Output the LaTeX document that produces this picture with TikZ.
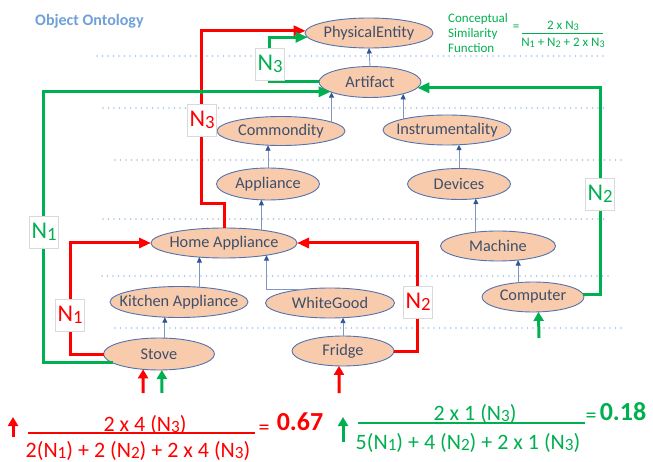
\documentclass[tikz,border=0pt]{standalone}
\usepackage{fontspec}
\setmainfont{Carlito}
\usetikzlibrary{arrows.meta,shapes.geometric}

\definecolor{ellfill}{HTML}{F8CBAD}
\definecolor{ellborder}{HTML}{5372AE}
\definecolor{elltext}{HTML}{3F4F69}
\definecolor{treeline}{HTML}{7F96C2}
\definecolor{treetip}{HTML}{2F5597}
\definecolor{dotblue}{HTML}{9DC3E6}
\definecolor{titleblue}{HTML}{6FA0D8}
\definecolor{pathred}{HTML}{FF0000}
\definecolor{pathgreen}{HTML}{00B050}
\definecolor{labborder}{HTML}{D9D9D9}

% small index digit, as in N1, N2, N3
\newcommand{\subd}[1]{\raisebox{-0.06em}{\scalebox{0.78}{#1}}}
% zero-width text so the ellipse keeps its given size
\newcommand{\zw}[1]{\makebox[0pt]{#1}}

\tikzset{
  onto/.style={ellipse, draw=ellborder, line width=0.9pt, fill=ellfill,
    text=elltext, font=\fontsize{16.3pt}{19pt}\selectfont,
    inner sep=0pt, outer sep=0pt},
  tree/.style={draw=treeline, line width=0.9pt,
    -{Triangle[length=5.5pt,width=5pt,color=treetip]}},
  dotline/.style={draw=dotblue, line width=1.7pt, line cap=round,
    dash pattern=on 0pt off 5.5pt},
  redpath/.style={draw=pathred, line width=3pt,
    -{Triangle[length=12pt,width=10pt]}},
  greenpath/.style={draw=pathgreen, line width=3pt,
    -{Triangle[length=12pt,width=10pt]}},
  uparr/.style={line width=3pt, -{Triangle[length=9pt,width=10pt]}},
  lab/.style={draw=labborder, fill=white, line width=0.6pt, inner sep=0pt,
    minimum width=29pt, minimum height=32pt,
    font=\fontsize{24pt}{24pt}\selectfont},
  ftxt/.style={font=\fontsize{22pt}{24pt}\selectfont, inner sep=0pt},
  fval/.style={font=\fontsize{26pt}{28pt}\selectfont\bfseries, inner sep=0pt},
  csf/.style={text=pathgreen, font=\fontsize{13pt}{15pt}\selectfont, inner sep=0pt},
}

\begin{document}
\begin{tikzpicture}[x=1pt,y=-1pt]
\useasboundingbox (0,0) rectangle (653,462);

% level separators
\draw[dotline] (97,56) -- (605,56);
\draw[dotline] (103,108) -- (608,108);
\draw[dotline] (115,160) -- (622,160);
\draw[dotline] (103,219) -- (608,219);
\draw[dotline] (102,276) -- (608,276);
\draw[dotline] (115,328) -- (622,328);

% title
\node[anchor=west, text=titleblue, font=\fontsize{16pt}{19pt}\selectfont\bfseries,
  inner sep=0pt] (title) at (35,21) {Object Ontology};

% concept nodes
\node[onto, minimum width=128pt, minimum height=30pt] (pe)  at (369,33)  {\zw{PhysicalEntity}};
\node[onto, minimum width=102pt, minimum height=31pt] (art) at (370,82)  {\zw{Artifact}};
\node[onto, minimum width=128pt, minimum height=29pt] (com) at (281,131) {\zw{Commondity}};
\node[onto, minimum width=128pt, minimum height=30pt] (ins) at (447,130) {\zw{Instrumentality}};
\node[onto, minimum width=103pt, minimum height=32pt] (app) at (268,184) {\zw{Appliance}};
\node[onto, minimum width=103pt, minimum height=31pt] (dev) at (459,184) {\zw{Devices}};
\node[onto, minimum width=146pt, minimum height=30pt] (ha)  at (224,243) {\zw{Home Appliance}};
\node[onto, minimum width=115pt, minimum height=30pt] (mac) at (498,246) {\zw{Machine}};
\node[onto, minimum width=138pt, minimum height=31pt] (ka)  at (179,302) {\zw{Kitchen Appliance}};
\node[onto, minimum width=129pt, minimum height=30pt] (wg)  at (330,303) {\zw{WhiteGood}};
\node[onto, minimum width=102pt, minimum height=30pt] (cmp) at (533,297) {\zw{Computer}};
\node[onto, minimum width=111pt, minimum height=32pt] (stv) at (159,354) {\zw{Stove}};
\node[onto, minimum width=102pt, minimum height=30pt] (frg) at (343,351) {\zw{Fridge}};

% is-a links
\draw[tree] (art.north) -- (pe.south);
\draw[tree] (com.10) -- (com.10 |- art.-165);
\draw[tree] (ins.166) -- (ins.166 |- art.-20);
\draw[tree] (app.north) -- (app.north |- com.-132);
\draw[tree] (dev.north) -- (dev.north |- ins.-51);
\draw[tree] (ha.19) -- (ha.19 |- app.-111);
\draw[tree] (mac.148) -- (mac.148 |- dev.-41);
\draw[tree] (ka.36) -- (ka.36 |- ha.-151);
\draw[tree] (wg.150) -| (ha.-16);
\draw[tree] (ka.-133 |- stv.north) -- (ka.-133);
\draw[tree] (frg.north) -- (frg.north |- wg.-48);
\draw[tree] (cmp.136) -- (cmp.136 |- mac.-35);

% Stove - Fridge paths (red)
\draw[redpath] (stv.west) -| ([xshift=-81pt]ha.west) -- (ha.west);
\draw[redpath] (frg.east) -| ([xshift=120pt]ha.east) -- (ha.east);
\draw[redpath] (ha.north) -- ++(0,-24) -| ([xshift=-104pt]pe.178) -- (pe.178);

% Stove - Computer paths (green)
\draw[greenpath] (art.west) -| ([xshift=-38pt]pe.-176) -- (pe.-176);
\draw[greenpath] (stv.-169) -| ([xshift=-287pt]art.-166) -- (art.-166);
\draw[greenpath] (cmp.3) -| ([xshift=183pt]art.-7) -- (art.-7);
\coordinate (cross) at ([xshift=-129pt]art.-166);
\fill[pathgreen] (cross) circle (2.3pt);

% path length labels
\node[lab, text=pathred]   (lr1) at (70,315)  {N\subd{1}};
\node[lab, text=pathgreen] (lg1) at (44,232)  {N\subd{1}};
\node[lab, text=pathred]   (lr3) at (202,120) {N\subd{3}};
\node[lab, text=pathgreen] (lg3) at (270,64)  {N\subd{3}};
\node[lab, text=pathred]   (lr2) at (418,302) {N\subd{2}};
\node[lab, text=pathgreen] (lg2) at (600,194) {N\subd{2}};

% query markers
\coordinate (qs1) at (143,393);
\coordinate (qs2) at (162,393);
\coordinate (qf)  at (339,393);
\coordinate (qc)  at (539,338);
\draw[uparr, pathred]   (qs1) -- (stv.-136);
\draw[uparr, pathgreen] (qs2) -- (stv.-80);
\draw[uparr, pathred]   (qf)  -- (frg.-105);
\draw[uparr, pathgreen] (qc)  -- (cmp.-70);

% similarity function
\node[csf, anchor=west, align=left] (csf) at (448,33) {Conceptual\\Similarity\\Function};
\node[csf] (cseq) at (516,28) {=};
\node[csf] (csnum) at (563,26) {2 x N\subd{3}};
\coordinate (csu0) at (522,33);
\coordinate (csu1) at (603,33);
\draw[pathgreen, line width=0.9pt] (csu0) -- (csu1);
\node[csf] (csden) at (563,43) {N\subd{1} + N\subd{2} + 2 x N\subd{3}};

% Stove - Fridge result
\coordinate (la0) at (13,437);
\coordinate (la1) at (13,417);
\draw[uparr, pathred] (la0) -- (la1);
\node[ftxt, text=pathred] (lnum) at (145,425) {2 x 4 (N\subd{3})};
\coordinate (lu0) at (28,433);
\coordinate (lu1) at (255,433);
\draw[pathred, line width=1.2pt] (lu0) -- (lu1);
\node[ftxt, text=pathred] (lden) at (138,451) {2(N\subd{1}) + 2 (N\subd{2}) + 2 x 4 (N\subd{3})};
\node[ftxt, text=pathred] (leq) at (264,430) {=};
\node[fval, text=pathred] (lval) at (300,422) {0.67};

% Stove - Computer result
\coordinate (ra0) at (343,442);
\coordinate (ra1) at (343,417);
\draw[uparr, pathgreen] (ra0) -- (ra1);
\node[ftxt, text=pathgreen] (rnum) at (475,414) {2 x 1 (N\subd{3})};
\coordinate (ru0) at (358,423);
\coordinate (ru1) at (585,423);
\draw[pathgreen, line width=1.2pt] (ru0) -- (ru1);
\node[ftxt, text=pathgreen] (rden) at (468,443) {5(N\subd{1}) + 4 (N\subd{2}) + 2 x 1 (N\subd{3})};
\node[ftxt, text=pathgreen] (req) at (591,418) {=};
\node[fval, text=pathgreen] (rval) at (623,412) {0.18};
\end{tikzpicture}
\end{document}
